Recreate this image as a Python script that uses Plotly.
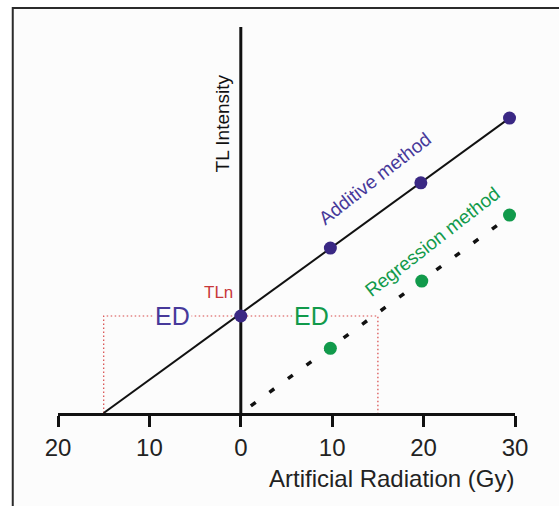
import plotly.graph_objects as go

# ---- data ----
tick_vals = [-20, -10, 0, 10, 20, 30]
tick_text = ["20", "10", "0", "10", "20", "30"]

add_x = [0, 9.8, 19.7, 29.4]
add_y = [15.0, 25.5, 35.6, 45.6]
add_line_x = [-15, 29.4]
add_line_y = [0, 45.6]

reg_x = [9.8, 19.8, 29.4]
reg_y = [10.0, 20.4, 30.6]
reg_line_x = [1.1, 29.0]
reg_line_y = [1.1, 30.0]

ed_value = 15
tln_value = 15
axis_top = 59.7

PURPLE = "#3a2884"
PURPLE_TXT = "#47399a"
GREEN = "#119a4b"
RED = "#c8383a"
RED_DOT = "#d84848"
FONT = "Liberation Sans, Arial, sans-serif"

fig = go.Figure()

# red dotted ED construction lines
fig.add_trace(go.Scatter(
    x=[-ed_value, -ed_value, ed_value, ed_value],
    y=[0, tln_value, tln_value, 0],
    mode="lines", line=dict(color=RED_DOT, width=1.2, dash="1.5px,2.5px"),
    hoverinfo="skip", showlegend=False))

# vertical TL intensity axis
fig.add_trace(go.Scatter(
    x=[0, 0], y=[0, axis_top], mode="lines",
    line=dict(color="#111111", width=3), hoverinfo="skip", showlegend=False))

# additive method line + regression dashed line
fig.add_trace(go.Scatter(
    x=add_line_x, y=add_line_y, mode="lines",
    line=dict(color="#111111", width=2), showlegend=False))
fig.add_trace(go.Scatter(
    x=reg_line_x, y=reg_line_y, mode="lines",
    line=dict(color="#111111", width=3.5, dash="6px,17px"), showlegend=False))
fig.add_trace(go.Scatter(
    x=add_x, y=add_y, mode="markers", cliponaxis=False,
    marker=dict(color=PURPLE, size=13), showlegend=False))
fig.add_trace(go.Scatter(
    x=reg_x, y=reg_y, mode="markers", cliponaxis=False,
    marker=dict(color=GREEN, size=13), showlegend=False))

annotations = [
    dict(x=-7.5, y=tln_value, text="ED", font=dict(size=25, color=PURPLE_TXT, family=FONT),
         bgcolor="#fcfcfc", borderpad=1),
    dict(x=7.7, y=tln_value, text="ED", font=dict(size=25, color=GREEN, family=FONT),
         bgcolor="#fcfcfc", borderpad=1),
    dict(x=-2.4, y=18.6, text="TLn", font=dict(size=17, color=RED, family=FONT)),
    dict(x=-2.0, y=44.7, text="TL Intensity", textangle=-90,
         font=dict(size=19, color="#111111", family=FONT)),
    dict(x=14.7, y=36.2, text="Additive method", textangle=-38,
         font=dict(size=19, color=PURPLE_TXT, family=FONT)),
    dict(x=21.0, y=26.5, text="Regression method", textangle=-38,
         font=dict(size=19, color=GREEN, family=FONT)),
    dict(x=0.73, y=-0.168, xref="paper", yref="paper", text="Artificial Radiation (Gy)",
         xanchor="center", yanchor="middle",
         font=dict(size=24, color="#222222", family=FONT)),
]
for a in annotations:
    a.setdefault("xref", "x")
    a.setdefault("yref", "y")
    a["showarrow"] = False

fig.update_layout(
    width=559, height=506,
    margin=dict(l=58, r=44, t=25, b=93),
    paper_bgcolor="white", plot_bgcolor="rgba(0,0,0,0)",
    annotations=annotations,
    shapes=[dict(type="rect", xref="paper", yref="paper",
                 x0=-0.099, x1=1.2, y0=-0.3, y1=1.044, layer="below",
                 line=dict(color="#2b2b2b", width=2), fillcolor="#fcfcfc")],
    xaxis=dict(range=[-20, 30], tickvals=tick_vals, ticktext=tick_text,
               showline=True, linecolor="#111111", linewidth=3,
               ticks="outside", ticklen=11, tickwidth=3, tickcolor="#111111",
               tickfont=dict(size=24, color="#222222", family=FONT),
               showgrid=False, zeroline=False, fixedrange=True),
    yaxis=dict(range=[0, 60], visible=False, showgrid=False, zeroline=False),
    showlegend=False,
)

fig.write_html("out.html", config={"displayModeBar": False},
               post_script="document.body.style.margin='0';document.body.style.overflow='hidden';")
